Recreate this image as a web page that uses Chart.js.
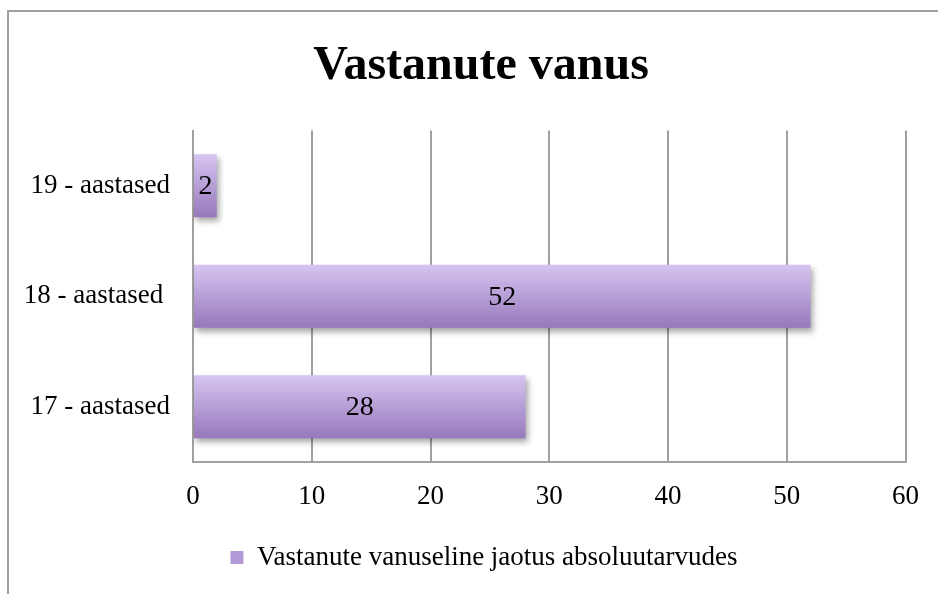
<!DOCTYPE html>
<html>
<head>
<meta charset="utf-8">
<script src="https://cdn.jsdelivr.net/npm/chart.js@4/dist/chart.umd.min.js"></script>
<style>
  html, body { margin: 0; padding: 0; background: #ffffff; }
  #wrap { position: relative; width: 938px; height: 594px; overflow: hidden; }
  #frame { position: absolute; left: 7px; top: 10px; width: 940px; height: 600px;
           border-left: 2px solid #a0a0a0; border-top: 2px solid #a0a0a0; }
  canvas { position: absolute; left: 0; top: 0; }
</style>
</head>
<body>
<div id="wrap">
  <div id="frame"></div>
  <canvas id="c" width="938" height="594"></canvas>
</div>
<script>
const titleText = 'Vastanute vanus';
const categories = ['19 - aastased', '18 - aastased ', '17 - aastased'];
const seriesName = 'Vastanute vanuseline jaotus absoluutarvudes';
const values = [2, 52, 28];
const xTicks = [0, 10, 20, 30, 40, 50, 60];

const FONT = "'Liberation Serif', 'Times New Roman', serif";
const BAR_PCT = 0.57;

function barGradient(context) {
  const chart = context.chart;
  const yScale = chart.scales.y;
  if (!chart.chartArea || !yScale || context.dataIndex === undefined) return '#b59dd8';
  const cy = yScale.getPixelForValue(context.dataIndex);
  const band = (chart.chartArea.bottom - chart.chartArea.top) / categories.length;
  const h = band * BAR_PCT;
  const g = chart.ctx.createLinearGradient(0, cy - h / 2, 0, cy + h / 2);
  g.addColorStop(0, '#d6c5f1');
  g.addColorStop(1, '#9778bc');
  return g;
}

const customPlugin = {
  id: 'barShadow',
  afterLayout(chart) {
    if (chart.legend) {
      chart.legend.left += 31;
      chart.legend.right += 31;
    }
    if (chart.titleBlock) {
      chart.titleBlock.left += 28;
      chart.titleBlock.right += 28;
    }
  },
  beforeDatasetsDraw(chart) {
    const ctx = chart.ctx;
    ctx.save();
    ctx.shadowColor = 'rgba(0,0,0,0.35)';
    ctx.shadowBlur = 6;
    ctx.shadowOffsetX = 2;
    ctx.shadowOffsetY = 4;
  },
  afterDatasetsDraw(chart) {
    chart.ctx.restore();
    const ctx = chart.ctx;
    const meta = chart.getDatasetMeta(0);
    ctx.save();
    ctx.fillStyle = '#000000';
    ctx.font = '28px ' + FONT;
    ctx.textAlign = 'center';
    ctx.textBaseline = 'middle';
    meta.data.forEach((bar, i) => {
      const cx = (bar.x + bar.base) / 2;
      ctx.fillText(String(chart.data.datasets[0].data[i]), cx, bar.y + 1);
    });
    ctx.restore();
  }
};

new Chart(document.getElementById('c'), {
  type: 'bar',
  data: {
    labels: categories,
    datasets: [{
      label: seriesName,
      data: values,
      backgroundColor: barGradient,
      borderWidth: 0,
      barPercentage: BAR_PCT,
      categoryPercentage: 1.0
    }]
  },
  options: {
    indexAxis: 'y',
    responsive: false,
    animation: false,
    devicePixelRatio: 1,
    layout: { padding: { left: 0, right: 32, top: 28, bottom: 13 } },
    plugins: {
      tooltip: { enabled: false },
      title: {
        display: true,
        text: titleText,
        color: '#000000',
        font: { family: FONT, size: 48, weight: 'bold' },
        padding: { top: 10, bottom: 35 }
      },
      legend: {
        display: true,
        position: 'bottom',
        labels: {
          color: '#000000',
          font: { family: FONT, size: 27 },
          boxWidth: 13,
          boxHeight: 13,
          padding: 10,
          generateLabels(chart) {
            return [{
              text: seriesName,
              fillStyle: '#b29ad6',
              strokeStyle: '#b29ad6',
              lineWidth: 0,
              hidden: false,
              datasetIndex: 0
            }];
          }
        }
      }
    },
    scales: {
      x: {
        min: 0,
        max: 60,
        afterBuildTicks(scale) { scale.ticks = xTicks.map(v => ({ value: v })); },
        afterFit(scale) { scale.height = 72; },
        grid: { color: '#a0a0a0', lineWidth: 2, drawTicks: false },
        border: { display: true, color: '#a0a0a0', width: 2 },
        ticks: { color: '#000000', font: { family: FONT, size: 27 }, padding: 19 }
      },
      y: {
        afterFit(scale) { scale.width = 193; },
        grid: { display: false, drawTicks: false },
        border: { display: true, color: '#a0a0a0', width: 2 },
        ticks: { color: '#000000', font: { family: FONT, size: 27 }, padding: 23 }
      }
    }
  },
  plugins: [customPlugin]
});
</script>
</body>
</html>
